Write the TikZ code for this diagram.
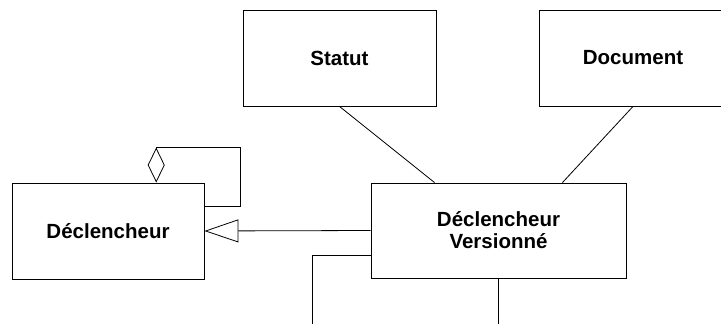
\documentclass[tikz,border=0pt]{standalone}
\usepackage{fontspec}
\setmainfont{Liberation Sans}
\usetikzlibrary{arrows.meta,calc}

\begin{document}
\begin{tikzpicture}[x=1pt, y=-1pt,
  cls/.style={rectangle, draw, line width=0.9pt, align=center, inner sep=0pt, fill=white,
    font=\fontsize{20.5}{22}\selectfont\bfseries},
  link/.style={line width=0.8pt, draw=black},
  inherit/.style={link, -{Triangle[open, length=34pt, width=23pt]}},
  agg/.style={link, -{Diamond[open, length=35pt, width=17pt]}}
]
\useasboundingbox (0,0) rectangle (721,324);
\clip (0,0) rectangle (721,324);
\node[cls, minimum width=192pt, minimum height=96pt] (decl) at (108,231) {D\'eclencheur};
\node[cls, minimum width=193pt, minimum height=96pt] (statut) at (339.5,58) {Statut};
\node[cls, minimum width=188pt, minimum height=96pt] (doc) at (633,58) {Document};
\node[cls, minimum width=255pt, minimum height=95pt] (declv) at (498.5,230.5) {D\'eclencheur\\Versionn\'e};
% points on the borders
\coordinate (vA) at ($(declv.north west)!0.25!(declv.north east)$);
\coordinate (vB) at ($(declv.north west)!0.75!(declv.north east)$);
\coordinate (vC) at ($(declv.north west)!0.76!(declv.south west)$);
\coordinate (loopA) at ($(decl.north west)!0.75!(decl.north east)$);
\coordinate (loopE) at ($(decl.north east)!0.25!(decl.south east)$);
\coordinate (outA) at (312,330);
\coordinate (outB) at ($(declv.south)+(0,52)$);
% associations
\draw[link] (statut.south) -- (vA);
\draw[link] (doc.south) -- (vB);
\draw[inherit] (declv.west) -- (decl.east);
\draw[agg] (loopE) -- ++(36,0) -- ++(0,-59) -| (loopA);
\draw[link] (vC) -| (outA);
\draw[link] (declv.south) -- (outB);
\end{tikzpicture}
\end{document}
